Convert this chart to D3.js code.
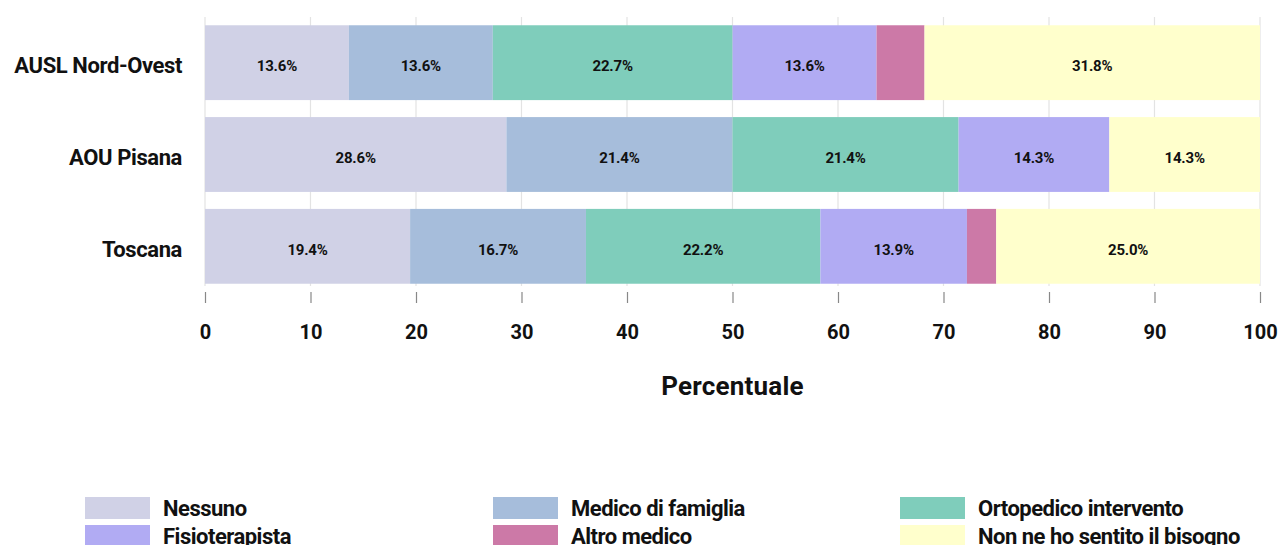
<!DOCTYPE html>
<html><head><meta charset="utf-8">
<script src="https://cdn.jsdelivr.net/npm/d3@7"></script>
<style>
html,body{margin:0;padding:0;background:#fff;}
text{font-family:Roboto,"DejaVu Sans",sans-serif;font-weight:700;fill:#111;}
</style></head>
<body><svg id="c" width="1279" height="545"></svg>
<script>
const categories = ["AUSL Nord-Ovest","AOU Pisana","Toscana"];
const seriesNames = ["Nessuno","Medico di famiglia","Ortopedico intervento","Fisioterapista","Altro medico","Non ne ho sentito il bisogno"];
const seriesColors = ["#d0d1e6","#a6bddb","#7fcdbb","#b1abf3","#cc79a7","#ffffcc"];
const nessuno    = [13.64, 28.57, 19.44];
const medico     = [13.64, 21.43, 16.67];
const ortopedico = [22.73, 21.43, 22.22];
const fisio      = [13.64, 14.29, 13.89];
const altro      = [4.55, 0, 2.78];
const nonBisogno = [31.80, 14.28, 25.00];
const xTicks = [0,10,20,30,40,50,60,70,80,90,100];
const xTitle = "Percentuale";

const seriesValues = [nessuno, medico, ortopedico, fisio, altro, nonBisogno];
const rows = categories.map((c,i)=>{
  const o = {cat:c};
  seriesNames.forEach((s,j)=>o[s]=seriesValues[j][i]);
  return o;
});
const stack = d3.stack().keys(seriesNames)(rows);

const svg = d3.select("#c");
const x = d3.scaleLinear().domain([0,100]).range([205,1260]);
const y = d3.scaleBand().domain(categories).range([17,292]).paddingInner(0.185).paddingOuter(0.09);

// gridlines
svg.append("g").selectAll("line").data(xTicks).join("line")
  .attr("x1",d=>x(d)).attr("x2",d=>x(d)).attr("y1",17).attr("y2",286)
  .attr("stroke","#e3e3e3").attr("stroke-width",1.2);

// bars
const g = svg.append("g");
stack.forEach((layer,j)=>{
  g.append("g").selectAll("rect").data(layer.filter(d=>d[1]-d[0]>0)).join("rect")
    .attr("x",d=>x(d[0])).attr("width",d=>x(d[1])-x(d[0]))
    .attr("y",d=>y(d.data.cat)).attr("height",y.bandwidth())
    .attr("fill",seriesColors[j]);
});
stack.forEach((layer,j)=>{
  g.append("g").selectAll("text").data(layer.filter(d=>d[1]-d[0]>=5)).join("text")
    .attr("x",d=>(x(d[0])+x(d[1]))/2).attr("y",d=>y(d.data.cat)+y.bandwidth()/2+3)
    .attr("text-anchor","middle").attr("dy","0.35em")
    .style("font-size","15px").style("letter-spacing","-0.2px")
    .text(d=>(d[1]-d[0]).toFixed(1)+"%");
});

// category labels
svg.append("g").selectAll("text").data(categories).join("text")
  .attr("x",182).attr("y",d=>y(d)+y.bandwidth()/2+3).attr("dy","0.35em")
  .attr("text-anchor","end").style("font-size","22px").style("letter-spacing","-0.4px")
  .text(d=>d);

// x axis
const ax = svg.append("g").attr("transform","translate(0,292)")
  .call(d3.axisBottom(x).tickValues(xTicks).tickSize(11).tickPadding(22));
ax.select(".domain").remove();
ax.selectAll(".tick line").attr("stroke","#888").attr("stroke-width",1.2);
ax.selectAll(".tick text").style("font-size","20px").style("font-family","Roboto").style("font-weight","700").attr("fill","#111");

svg.append("text").attr("x",x(50)).attr("y",395).attr("text-anchor","middle")
  .style("font-size","26px").style("letter-spacing","0.2px").text(xTitle);

// legend
const legCols = [85,493,900];
const leg = svg.append("g");
seriesNames.forEach((s,i)=>{
  const col = i%3, row = Math.floor(i/3);
  const lx = legCols[col], ly = 497 + row*28;
  leg.append("rect").attr("x",lx).attr("y",ly).attr("width",65).attr("height",22).attr("fill",seriesColors[i]);
  leg.append("text").attr("x",lx+78).attr("y",ly+11).attr("dy","0.35em")
    .style("font-size","22px").style("letter-spacing","-0.5px").text(s);
});
</script></body></html>
